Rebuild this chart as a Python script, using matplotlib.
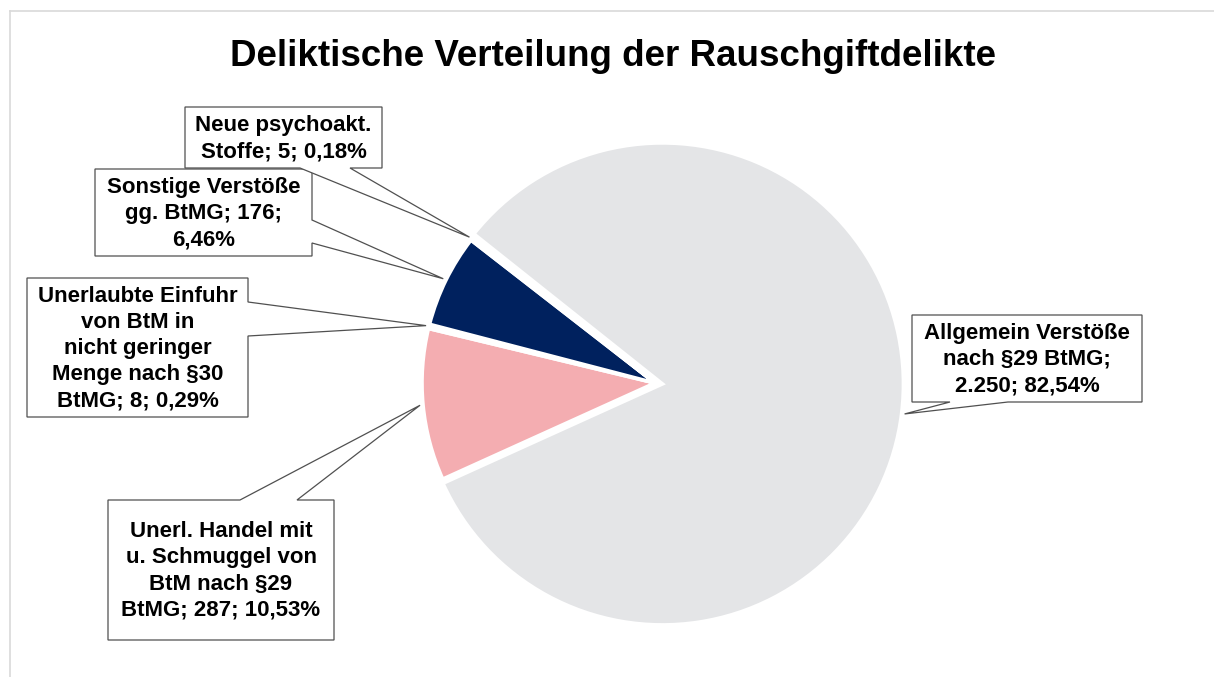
import math
import matplotlib
matplotlib.use("Agg")
import matplotlib.pyplot as plt
from matplotlib.patches import Polygon
from matplotlib.lines import Line2D

plt.rcParams['font.family'] = ['Liberation Sans', 'DejaVu Sans']

# data (order as in the sheet, drawn clockwise)
categories = ["Allgemein Verstöße nach §29 BtMG",
              "Unerl. Handel mit u. Schmuggel von BtM nach §29 BtMG",
              "Unerlaubte Einfuhr von BtM in nicht geringer Menge nach §30 BtMG",
              "Sonstige Verstöße gg. BtMG",
              "Neue psychoakt. Stoffe"]
values = [2250, 287, 8, 176, 5]
labels = ["Allgemein Verstöße\nnach §29 BtMG;\n2.250; 82,54%",
          "Unerl. Handel mit\nu. Schmuggel von\nBtM nach §29\nBtMG; 287; 10,53%",
          "Unerlaubte Einfuhr\nvon BtM in\nnicht geringer\nMenge nach §30\nBtMG; 8; 0,29%",
          "Sonstige Verstöße\ngg. BtMG; 176;\n6,46%",
          "Neue psychoakt.\nStoffe; 5; 0,18%"]
colors = ["#E4E5E7", "#F4ADB1", "#FFFFFF", "#00215E", "#FFFFFF"]
title = "Deliktische Verteilung der Rauschgiftdelikte"

W, H = 1214, 677

# label boxes in pixel coords: (x0, y0, x1, y1), edge with pointer, pointer base (a, b)
boxes = [((912, 315, 1142, 402), "bottom", (950, 1008)),
         ((108, 500, 334, 640), "top", (240, 297)),
         ((27, 278, 248, 417), "right", (302, 336)),
         ((95, 169, 312, 256), "right", (220, 243)),
         ((185, 107, 382, 168), "bottom", (300, 350))]


def py(y):
    return H - y


fig = plt.figure(figsize=(W / 100, H / 100), dpi=100)
ax = fig.add_axes([0, 0, 1, 1])

wedges, _ = ax.pie(values, colors=colors, startangle=141.5, counterclock=False,
                   center=(655, py(383)), radius=233, explode=[7.5, 0, 0, 0, 0],
                   wedgeprops=dict(edgecolor="white", linewidth=2.6))
wedges[0].set_radius(241)

ax.set_xlim(0, W)
ax.set_ylim(0, H)
ax.set_aspect("equal")
ax.axis("off")

for w, lab, (box, side, (a, b)) in zip(wedges, labels, boxes):
    tm = math.radians((w.theta1 + w.theta2) / 2)
    cx, cy = w.center
    r = w.r + 3
    tip = (cx + r * math.cos(tm), cy + r * math.sin(tm))
    x0, y0, x1, y1 = box
    if side == "bottom":
        pts = [(x0, py(y0)), (x1, py(y0)), (x1, py(y1)), (b, py(y1)), tip, (a, py(y1)), (x0, py(y1))]
    elif side == "right":
        pts = [(x0, py(y0)), (x1, py(y0)), (x1, py(a)), tip, (x1, py(b)), (x1, py(y1)), (x0, py(y1))]
    else:
        pts = [(x0, py(y0)), (a, py(y0)), tip, (b, py(y0)), (x1, py(y0)), (x1, py(y1)), (x0, py(y1))]
    ax.add_patch(Polygon(pts, closed=True, facecolor="white", edgecolor="#505050", linewidth=0.9, zorder=3))
    ax.text((x0 + x1) / 2, py((y0 + y1) / 2 + 1), lab, ha="center", va="center", fontsize=16,
            fontweight="bold", linespacing=1.32, zorder=4)

ax.text(613, py(56), title, ha="center", va="center", fontsize=26.5, fontweight="bold")

# chart area frame (cut off at right and bottom)
fig.add_artist(Line2D([9.5 / W, 1], [1 - 10.5 / H, 1 - 10.5 / H], color="#D9D9D9", linewidth=1.2))
fig.add_artist(Line2D([9.5 / W, 9.5 / W], [0, 1 - 10.5 / H], color="#D9D9D9", linewidth=1.2))

fig.savefig("out.png", dpi=100)
